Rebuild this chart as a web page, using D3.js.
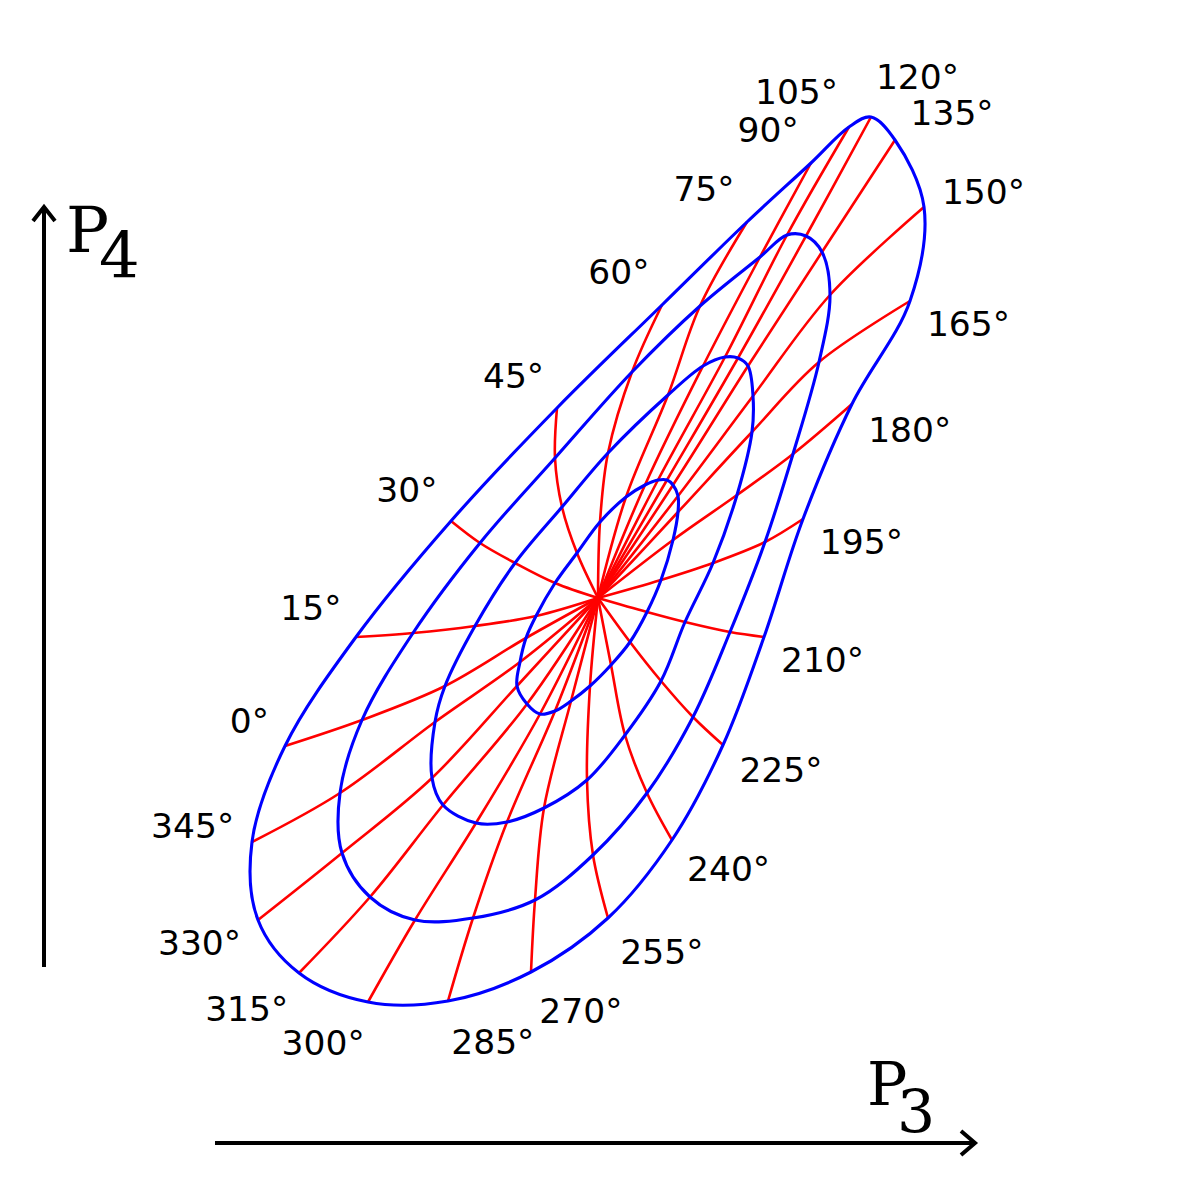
<!DOCTYPE html>
<html>
<head>
<meta charset="utf-8">
<title>P3 / P4 polar map</title>
<script src="https://cdn.jsdelivr.net/npm/d3@7"></script>
<style>
  html, body { margin: 0; padding: 0; background: #fff; }
  #chart { width: 1200px; height: 1200px; }
</style>
</head>
<body>
<div id="chart"></div>
<script>
/* Distorted polar grid in the (P3, P4) plane.
   Red rays = constant angle, blue loops = constant radius (4 levels). */
(function () {
  'use strict';

  const W = 1200, H = 1200;
  const RAY_COLOR = '#ff0000';
  const RING_COLOR = '#0000ff';

  // Angle of each ray (degrees)
  const ANGLES = [0, 15, 30, 45, 60, 75, 90, 105, 120, 135, 150, 165,
                  180, 195, 210, 225, 240, 255, 270, 285, 300, 315, 330, 345];

  // Common origin of every ray, [P3, P4]
  const CENTER = [59.8, 60.2];

  // Where each ray meets ring 1..4 (same order as ANGLES), [P3, P4]
  const RING_1 = [
    [52.6, 56.2], [53.6, 58.4], [55.5, 61.7], [57.7, 64.7], [60.0, 67.8], [62.6, 70.3],
    [64.5, 71.5], [65.8, 72.0], [66.7, 72.0], [67.3, 71.5], [67.8, 70.4], [67.8, 68.8],
    [67.3, 66.0], [66.1, 62.0], [64.7, 58.8], [63.0, 55.8], [61.1, 53.5], [59.0, 51.4],
    [57.1, 49.9], [55.5, 48.9], [54.0, 48.6], [52.7, 49.6], [51.7, 51.4], [52.0, 53.8]
  ];
  const RING_2 = [
    [44.5, 51.4], [47.5, 57.4], [51.5, 63.7], [56.2, 69.3], [60.8, 74.7], [66.8, 80.5],
    [70.3, 83.4], [72.5, 84.3], [73.8, 84.2], [74.8, 83.4], [75.3, 80.4], [75.2, 76.8],
    [73.7, 70.5], [71.3, 63.7], [68.5, 57.8], [66.1, 51.9], [62.5, 46.5], [58.7, 42.0],
    [54.4, 39.2], [50.7, 37.8], [47.6, 37.7], [44.3, 39.5], [43.2, 42.2], [43.5, 47.8]
  ];
  const RING_3 = [
    [36.2, 48.0], [41.3, 56.7], [48.0, 65.7], [55.5, 74.2], [63.2, 82.8], [70.0, 89.4],
    [76.0, 94.3], [78.7, 96.5], [80.6, 96.4], [82.2, 94.8], [83.0, 90.5], [81.9, 83.8],
    [79.3, 74.6], [76.5, 65.8], [73.0, 56.8], [69.3, 48.3], [64.7, 40.7], [59.3, 34.5],
    [53.5, 30.0], [47.3, 28.2], [41.5, 28.0], [37.0, 30.3], [34.2, 34.7], [34.0, 40.7]
  ];
  const RING_4 = [
    [28.5, 45.4], [35.6, 56.3], [45.1, 67.9], [55.7, 79.2], [66.2, 89.5], [74.7, 97.8],
    [81.1, 103.7], [84.9, 107.3], [87.1, 108.3], [89.5, 106.0], [92.4, 99.3], [91.0, 89.9],
    [85.2, 79.6], [80.3, 68.1], [76.4, 56.3], [72.3, 45.5], [67.2, 36.0], [60.8, 28.2],
    [53.1, 22.8], [44.8, 19.9], [36.8, 19.8], [29.9, 22.7], [25.8, 28.0], [25.2, 35.8]
  ];

  const RINGS = [RING_1, RING_2, RING_3, RING_4];

  const x = d3.scaleLinear().domain([0, 120]).range([0, W]);
  const y = d3.scaleLinear().domain([0, 120]).range([H, 0]);

  const svg = d3.select('#chart')
    .append('svg')
    .attr('width', W)
    .attr('height', H)
    .attr('viewBox', `0 0 ${W} ${H}`);

  svg.append('rect').attr('width', W).attr('height', H).attr('fill', '#fff');

  // --- Rays (drawn first, rings sit on top) ---
  const rayLine = d3.line()
    .x(d => x(d[0])).y(d => y(d[1]))
    .curve(d3.curveCatmullRom.alpha(0.5));

  svg.append('g')
    .selectAll('path')
    .data(ANGLES.map((a, i) => [CENTER, ...RINGS.map(r => r[i])]))
    .join('path')
    .attr('d', rayLine)
    .attr('fill', 'none')
    .attr('stroke', RAY_COLOR)
    .attr('stroke-width', 2.6);

  // --- Rings ---
  const ringLine = d3.line()
    .x(d => x(d[0])).y(d => y(d[1]))
    .curve(d3.curveCatmullRomClosed.alpha(0.5));

  svg.append('g')
    .selectAll('path')
    .data(RINGS)
    .join('path')
    .attr('d', ringLine)
    .attr('fill', 'none')
    .attr('stroke', RING_COLOR)
    .attr('stroke-width', 3.1);

  // --- Angle labels, pushed outward along the normal of the outer ring ---
  const FS = 34.5;
  const n = RING_4.length;
  const labels = svg.append('g')
    .attr('font-family', '"DejaVu Sans", sans-serif')
    .attr('font-size', FS)
    .attr('fill', '#000');

  ANGLES.forEach((a, i) => {
    const p = RING_4[i];
    const prev = RING_4[(i - 1 + n) % n];
    const next = RING_4[(i + 1) % n];
    const px = x(p[0]), py = y(p[1]);
    const tx = x(next[0]) - x(prev[0]);
    const ty = y(next[1]) - y(prev[1]);
    const len = Math.hypot(tx, ty);
    const nx = ty / len, ny = -tx / len;   // outward normal (ring runs clockwise on screen)

    const ax = px + nx * 18;
    const ay = py + ny * 29;

    labels.append('text')
      .attr('x', ax)
      .attr('y', ny < 0 ? ay : ay + FS * 0.72)
      .attr('text-anchor', nx < 0 ? 'end' : 'start')
      .text(a + '°');
  });

  // --- Axis arrows ---
  const axes = svg.append('g')
    .attr('stroke', '#000')
    .attr('stroke-width', 4)
    .attr('fill', 'none');

  // P4 (vertical)
  axes.append('line').attr('x1', 44).attr('y1', 967).attr('x2', 44).attr('y2', 209);
  axes.append('polyline').attr('points', '33,221 44,207 55,221')
    .attr('stroke-linejoin', 'miter');

  // P3 (horizontal)
  axes.append('line').attr('x1', 215).attr('y1', 1143).attr('x2', 972).attr('y2', 1143);
  axes.append('polyline').attr('points', '961,1131 975,1143 961,1155')
    .attr('stroke-linejoin', 'miter');

  // Axis names: "P" with a lowered index in one text element
  function axisName(px, py, size, sub, subX, subDy) {
    const t = svg.append('text')
      .attr('x', px).attr('y', py)
      .attr('font-family', '"DejaVu Serif", serif')
      .attr('font-size', size)
      .attr('fill', '#000');
    const p = t.append('tspan').text('P');
    const pw = p.node().getComputedTextLength();
    t.append('tspan')
      .attr('dx', subX - (px + pw))
      .attr('dy', subDy)
      .text(sub);
  }

  axisName(66, 252, 64, '4', 99, 26);
  axisName(867, 1105, 60, '3', 897, 28);
})();
</script>
</body>
</html>
